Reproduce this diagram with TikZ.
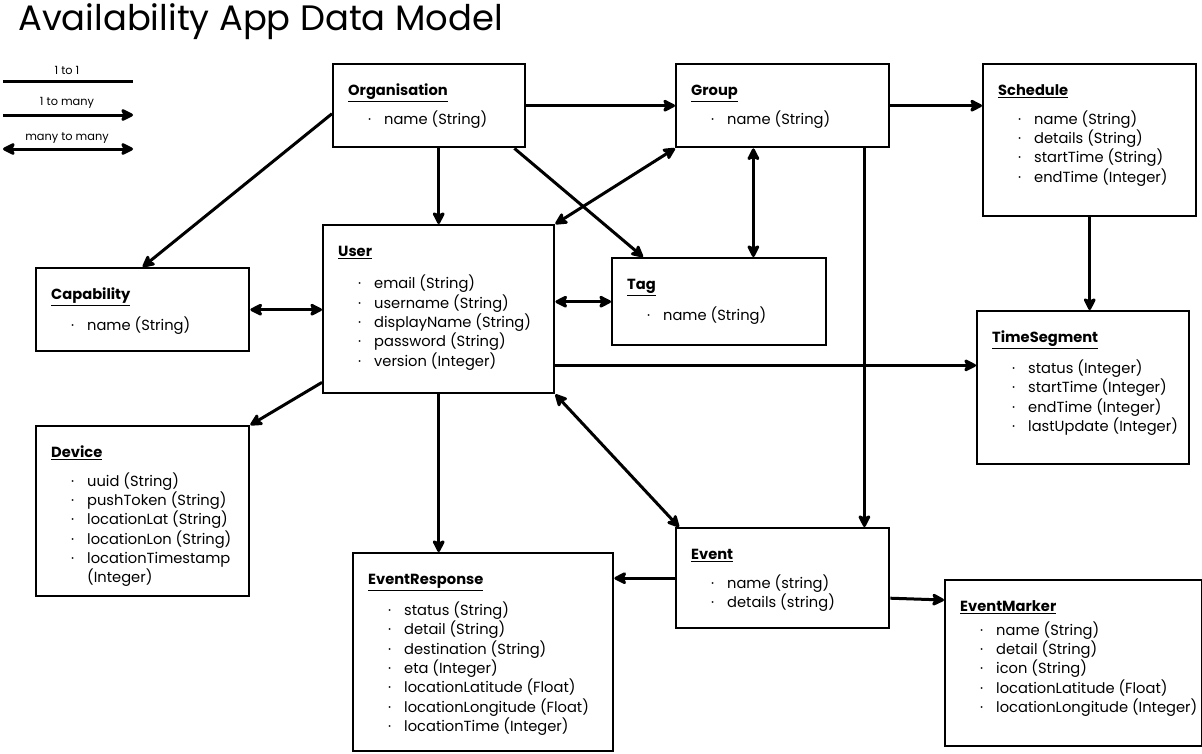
\documentclass[tikz,border=0pt]{standalone}
\usepackage{fontspec}
\setmainfont{Poppins}
\usepackage{tikz}
\usetikzlibrary{arrows.meta}
\newdimen\pxu
\pxu=0.75pt
% box content: width, height (px), body
\newcommand{\ebox}[3]{\parbox[t][#2\pxu][t]{#1\pxu}{\setlength{\parindent}{0pt}\fontsize{11}{14.5}\selectfont #3}}
\newcommand{\etitle}[2][7.25pt]{\rule{0pt}{31\pxu}\hspace*{15\pxu}\underline{\textbf{#2}}\par\vspace{#1}}
\newcommand{\attr}[1]{\par\hspace*{35\pxu}\makebox[16\pxu][l]{·}#1}

\begin{document}
\begin{tikzpicture}[x=0.75pt, y=-0.75pt,
		entity/.style={draw, line width=1.8pt, inner sep=0pt, anchor=north west, fill=white},
		rel11/.style={line width=2.25pt},
		rel1n/.style={rel11, -{Stealth[length=11pt, width=11pt, inset=2.5pt, round]}},
		relnn/.style={rel11, {Stealth[length=11pt, width=11pt, inset=2.5pt, round]}-{Stealth[length=11pt, width=11pt, inset=2.5pt, round]}},
		legend/.style={font=\fontsize{8.5}{10}\selectfont}]
			\useasboundingbox (0,0) rectangle (1202,753);
			\node[anchor=west, inner sep=0pt, font=\fontsize{26.5}{30}\selectfont] (title) at (18,22) {Availability App Data Model};
			% legend
			\node[legend] (k11) at (67,70) {1 to 1};
			\node[legend] (k1n) at (67,103) {1 to many};
			\node[legend] (knn) at (67,138) {many to many};
			\coordinate (a11) at (3,81);
			\coordinate (b11) at (133,81);
			\coordinate (a1n) at (3,115);
			\coordinate (b1n) at (133,115);
			\coordinate (ann) at (3,149);
			\coordinate (bnn) at (133,149);
			\draw[rel11] (a11) -- (b11);
			\draw[rel1n] (a1n) -- (b1n);
			\draw[relnn] (ann) -- (bnn);
			% entities
			\node[entity] (org) at (332,63) {\ebox{192}{83}{\etitle[6pt]{Organisation}\attr{name (String)}}};
			\node[entity] (grp) at (675,63) {\ebox{213}{83}{\etitle[6pt]{Group}\attr{name (String)}}};
			\node[entity] (sch) at (982,63) {\ebox{213}{152}{\etitle{Schedule}\attr{name (String)}\attr{details (String)}\attr{startTime (String)}\attr{endTime (Integer)}}};
			\node[entity] (usr) at (322,224) {\ebox{231}{168}{\etitle[10pt]{User}\attr{email (String)}\attr{username (String)}\attr{displayName (String)}\attr{password (String)}\attr{version (Integer)}}};
			\node[entity] (tag) at (611,257) {\ebox{214}{87}{\etitle{Tag}\attr{name (String)}}};
			\node[entity] (cap) at (35,267) {\ebox{213}{83}{\etitle{Capability}\attr{name (String)}}};
			\node[entity] (tseg) at (976,310) {\ebox{212}{153}{\etitle{TimeSegment}\attr{status (Integer)}\attr{startTime (Integer)}\attr{endTime (Integer)}\attr{lastUpdate (Integer)}}};
			\node[entity] (dev) at (35,425) {\ebox{213}{170}{\etitle{Device}\attr{uuid (String)}\attr{pushToken (String)}\attr{locationLat (String)}\attr{locationLon (String)}\attr{locationTimestamp}\par\hspace*{51\pxu}(Integer)}};
			\node[entity] (evt) at (675,527) {\ebox{213}{100}{\etitle{Event}\attr{name (string)}\attr{details (string)}}};
			\node[entity] (resp) at (352,552) {\ebox{260}{198}{\etitle{EventResponse}\attr{status (String)}\attr{detail (String)}\attr{destination (String)}\attr{eta (Integer)}\attr{locationLatitude (Float)}\attr{locationLongitude (Float)}\attr{locationTime (Integer)}}};
			\node[entity] (mrk) at (944,579) {\ebox{257}{166}{\etitle[3.5pt]{EventMarker}\attr{name (String)}\attr{detail (String)}\attr{icon (String)}\attr{locationLatitude (Float)}\attr{locationLongitude (Integer)}}};
			% relations
			\coordinate (gt) at ([xshift=-22pt]grp.south);
			\coordinate (ge) at ([xshift=-19.5pt]grp.south east);
			\coordinate (ut) at ([yshift=21.75pt]usr.south east);
			\draw[rel1n] (org.east) -- (grp.west);
			\draw[rel1n] (grp.east) -- (grp.east -| sch.west);
			\draw[rel1n] ([yshift=-6pt]org.west) -- (cap.north);
			\draw[rel1n] (usr.north |- org.south) -- (usr.north);
			\draw[rel1n] ([xshift=-9pt]org.south east) -- ([xshift=24pt]tag.north west);
			\draw[relnn] (usr.north east) -- (grp.south west);
			\draw[relnn] (gt) -- (gt |- tag.north);
			\draw[rel1n] (ge) -- (ge |- evt.north);
			\draw[rel1n] (sch.south) -- (sch.south |- tseg.north);
			\draw[relnn] (cap.east) -- (cap.east -| usr.west);
			\draw[relnn] (tag.west -| usr.east) -- (tag.west);
			\draw[rel1n] (ut) -- (ut -| tseg.west);
			\draw[rel1n] ([yshift=9pt]usr.south west) -- (dev.north east);
			\draw[rel1n] (usr.south) -- (usr.south |- resp.north);
			\draw[relnn] (usr.south east) -- ([xshift=3pt]evt.north west);
			\draw[rel1n] (evt.west) -- (evt.west -| resp.east);
			\draw[rel1n] ([yshift=-15pt]evt.east) -- ([yshift=-15.75pt]mrk.north west);
		\end{tikzpicture}
\end{document}
